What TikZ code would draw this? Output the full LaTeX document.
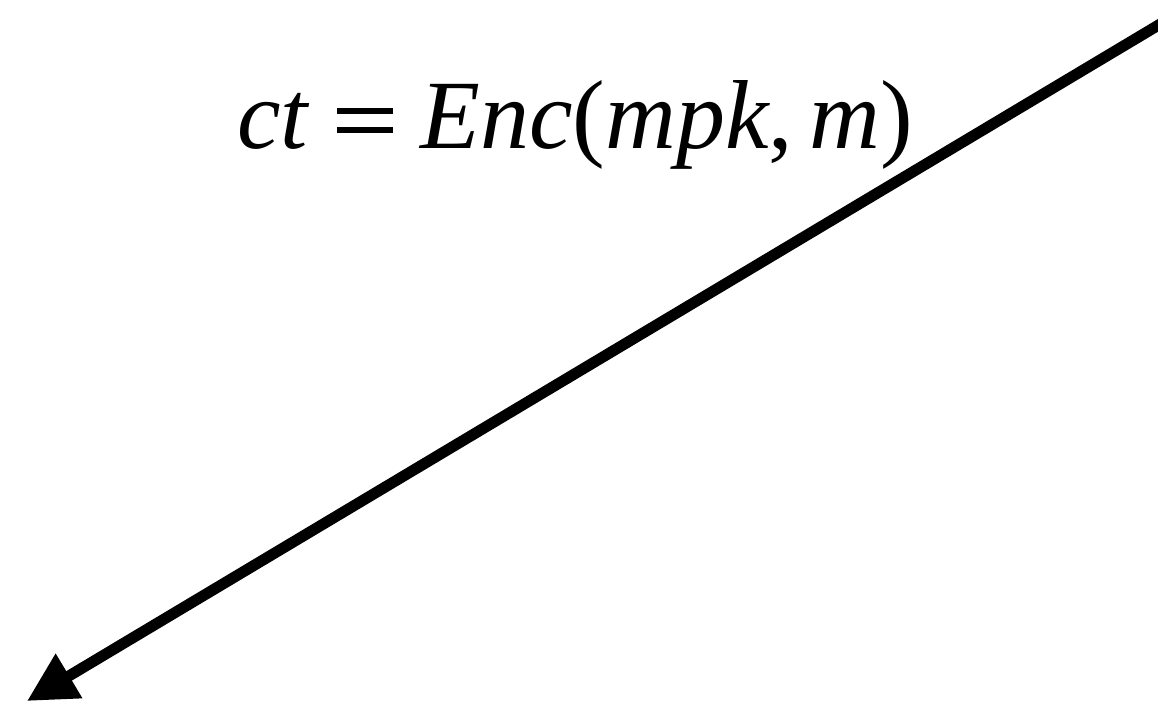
\documentclass[tikz,border=0pt]{standalone}
\usepackage{fontspec}
\setmainfont{Liberation Serif}
\usetikzlibrary{arrows.meta}
\newcommand{\myeq}{\rlap{\rule[0.153em]{0.575em}{0.062em}}\rule[0.345em]{0.575em}{0.062em}}
\tikzset{
  conn/.style={line width=5.5pt, -{Triangle[length=24.5pt,width=24.5pt]}},
  lbl/.style={inner sep=0pt, font=\fontsize{49}{59}\selectfont}
}
\begin{document}
\begin{tikzpicture}[x=0.5pt,y=-0.5pt]
\useasboundingbox (0,0) rectangle (1158,708);
\node[lbl, anchor=base] (eq) at (575,148) {\textit{ct}\hspace{0.2778em}\myeq\hspace{0.2778em}\textit{Enc}(\textit{mpk},\hspace{0.1667em}\textit{m})};
\coordinate (s) at (1162,23);
\coordinate (t) at (27,701);
\draw[conn] (s) -- (t);
\end{tikzpicture}
\end{document}
